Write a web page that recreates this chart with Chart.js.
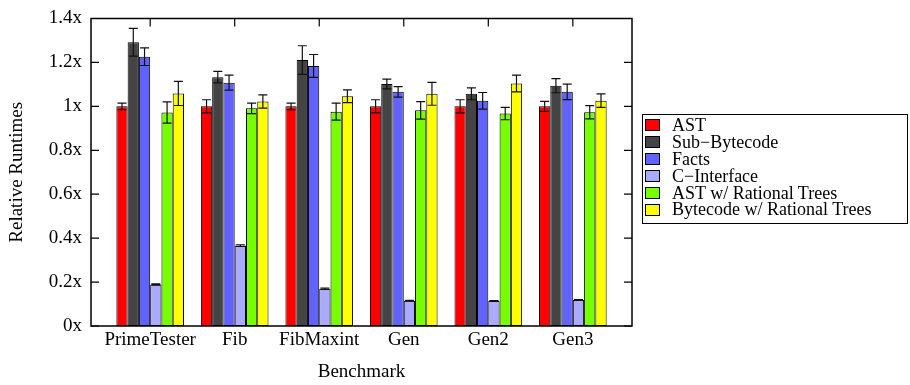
<!DOCTYPE html>
<html>
<head>
<meta charset="utf-8">
<script src="https://cdn.jsdelivr.net/npm/chart.js@4.4.1/dist/chart.umd.min.js"></script>
<style>
  html, body { margin: 0; padding: 0; background: #fff; }
  #wrap { position: relative; width: 910px; height: 385px; }
  #legend {
    position: absolute; left: 642px; top: 114px; width: 264px; height: 106px;
    border: 1px solid #000; box-sizing: content-box;
    font-family: 'Liberation Serif', serif; font-size: 18px; color: #000;
    padding: 2px 0 0 0;
  }
  .row { height: 16.9px; line-height: 16.9px; display: flex; align-items: center; white-space: nowrap; }
  .sw { width: 13px; height: 10px; border: 1px solid #000; margin-left: 2px; margin-right: 12px; flex: none; }
</style>
</head>
<body>
<div id="wrap">
  <canvas id="c" width="910" height="385"></canvas>
  <div id="legend"></div>
</div>
<script>
const categories = ['PrimeTester', 'Fib', 'FibMaxint', 'Gen', 'Gen2', 'Gen3'];
const seriesNames = ['AST', 'Sub\u2212Bytecode', 'Facts', 'C\u2212Interface', 'AST w/ Rational Trees', 'Bytecode w/ Rational Trees'];
const seriesColors = ['#ff0000', '#444444', '#6262ff', '#aaaaff', '#77ff00', '#ffff00'];

const astValues      = [1.000, 1.000, 1.000, 1.000, 1.000, 1.000];
const astErrors      = [0.015, 0.030, 0.015, 0.030, 0.030, 0.023];
const subBcValues    = [1.292, 1.133, 1.211, 1.102, 1.057, 1.094];
const subBcErrors    = [0.063, 0.026, 0.065, 0.022, 0.027, 0.032];
const factsValues    = [1.226, 1.108, 1.184, 1.066, 1.025, 1.066];
const factsErrors    = [0.040, 0.034, 0.052, 0.024, 0.038, 0.035];
const cIfaceValues   = [0.189, 0.366, 0.170, 0.115, 0.114, 0.118];
const cIfaceErrors   = [0.003, 0.004, 0.003, 0.002, 0.002, 0.002];
const astRtValues    = [0.972, 0.991, 0.976, 0.982, 0.967, 0.973];
const astRtErrors    = [0.048, 0.024, 0.039, 0.040, 0.028, 0.030];
const bcRtValues     = [1.059, 1.022, 1.046, 1.057, 1.104, 1.026];
const bcRtErrors     = [0.055, 0.030, 0.029, 0.052, 0.038, 0.031];

const yTickValues = [0, 0.2, 0.4, 0.6, 0.8, 1.0, 1.2, 1.4];

const allValues = [astValues, subBcValues, factsValues, cIfaceValues, astRtValues, bcRtValues];
const allErrors = [astErrors, subBcErrors, factsErrors, cIfaceErrors, astRtErrors, bcRtErrors];

const FONT = "'Liberation Serif', 'Times New Roman', serif";
Chart.defaults.font.family = FONT;
Chart.defaults.color = '#000';

const datasets = allValues.map((vals, k) => ({
  label: seriesNames[k],
  data: vals.map((v, i) => ({ x: i, y: v })),
  errors: allErrors[k],
  backgroundColor: seriesColors[k],
  borderColor: '#000',
  borderWidth: 1,
  borderSkipped: false,
  categoryPercentage: 0.8,
  barPercentage: 1.0
}));

const framePlugin = {
  id: 'frameAndErrors',
  afterDatasetsDraw(chart) {
    const ctx = chart.ctx;
    const ys = chart.scales.y, xs = chart.scales.x;
    const a = chart.chartArea;
    // error bars
    ctx.save();
    ctx.strokeStyle = '#111';
    ctx.lineWidth = 1.2;
    chart.data.datasets.forEach((ds, k) => {
      const meta = chart.getDatasetMeta(k);
      meta.data.forEach((el, i) => {
        const v = ds.data[i].y, e = ds.errors[i];
        const yTop = ys.getPixelForValue(v + e);
        const yBot = ys.getPixelForValue(v - e);
        const hw = el.width * 0.4;
        ctx.beginPath();
        ctx.moveTo(el.x, yTop); ctx.lineTo(el.x, yBot);
        ctx.moveTo(el.x - hw, yTop); ctx.lineTo(el.x + hw, yTop);
        ctx.moveTo(el.x - hw, yBot); ctx.lineTo(el.x + hw, yBot);
        ctx.stroke();
      });
    });
    ctx.restore();
    // frame and inward ticks
    ctx.save();
    ctx.strokeStyle = '#000';
    ctx.lineWidth = 1.5;
    ctx.strokeRect(a.left, a.top, a.right - a.left, a.bottom - a.top);
    ctx.lineWidth = 1.2;
    ctx.beginPath();
    yTickValues.forEach(v => {
      const p = ys.getPixelForValue(v);
      ctx.moveTo(a.left, p); ctx.lineTo(a.left + 8, p);
      ctx.moveTo(a.right, p); ctx.lineTo(a.right - 8, p);
    });
    categories.forEach((c, i) => {
      const p = xs.getPixelForValue(i);
      ctx.moveTo(p, a.top); ctx.lineTo(p, a.top + 8);
    });
    ctx.stroke();
    ctx.restore();
  }
};

new Chart(document.getElementById('c'), {
  type: 'bar',
  data: { datasets },
  options: {
    responsive: false,
    animation: false,
    devicePixelRatio: 1,
    layout: { padding: { left: 0, right: 278, top: 10, bottom: 0 } },
    plugins: { legend: { display: false }, tooltip: { enabled: false } },
    scales: {
      x: {
        type: 'linear',
        min: -0.7, max: 5.7,
        offset: false,
        grid: { display: false, drawTicks: false },
        border: { display: false },
        afterBuildTicks: s => { s.ticks = categories.map((_, i) => ({ value: i })); },
        ticks: {
          callback: v => categories[Math.round(v)],
          padding: 5, autoSkip: false, maxRotation: 0,
          font: { size: 19, lineHeight: 1 }, color: '#000'
        },
        title: {
          display: true, text: 'Benchmark', color: '#000',
          font: { size: 19, lineHeight: 1 }, padding: { top: 0, bottom: 3 }
        },
        afterFit: s => { s.height = 59; }
      },
      y: {
        min: 0, max: 1.4,
        grid: { display: false, drawTicks: false },
        border: { display: false },
        afterBuildTicks: s => { s.ticks = yTickValues.map(v => ({ value: v })); },
        ticks: {
          callback: v => (+v.toFixed(1)) + 'x',
          padding: 9, font: { size: 19, lineHeight: 1 }, color: '#000'
        },
        title: {
          display: true, text: 'Relative Runtimes', color: '#000',
          font: { size: 19, lineHeight: 1 }, padding: { top: 8, bottom: 0 }
        },
        afterFit: s => { s.width = 91; }
      }
    }
  },
  plugins: [framePlugin]
});

const lg = document.getElementById('legend');
seriesNames.forEach((n, k) => {
  const r = document.createElement('div');
  r.className = 'row';
  const sw = document.createElement('span');
  sw.className = 'sw';
  sw.style.background = seriesColors[k];
  const t = document.createElement('span');
  t.textContent = n;
  r.appendChild(sw); r.appendChild(t);
  lg.appendChild(r);
});
</script>
</body>
</html>
